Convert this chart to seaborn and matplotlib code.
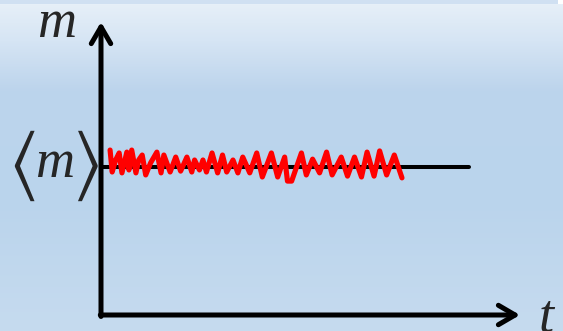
import numpy as np
import pandas as pd
import seaborn as sns
import matplotlib
matplotlib.use("Agg")
from matplotlib import pyplot as plt

# fluctuating signal m(t)
t_vals = [1.3, 1.6, 2.1, 2.6, 3.0, 3.7, 4.0, 4.4, 5.0, 5.4, 5.9, 6.4, 7.1, 8.0,
          8.6, 9.0, 9.9, 10.7, 11.4, 12.3, 13.0, 13.4, 14.1, 14.6, 15.1, 15.9,
          16.7, 17.4, 18.0, 18.9, 19.6, 20.3, 21.3, 22.3, 23.1, 24.4, 25.3,
          26.3, 26.7, 27.3, 28.7, 29.4, 30.3, 31.3, 32.3, 33.1, 34.4, 35.3,
          36.3, 37.3, 38.1, 39.1, 39.9, 40.9, 42.0, 43.1]
m_vals = [5.63, 4.88, 5.29, 5.53, 4.85, 5.56, 4.95, 5.63, 4.85, 5.29, 5.46, 4.78,
          5.19, 5.56, 4.85, 5.46, 4.88, 5.39, 4.91, 5.39, 4.88, 5.29, 4.95, 5.29,
          4.88, 5.53, 4.85, 5.46, 4.88, 5.29, 4.85, 5.39, 4.85, 5.53, 4.71, 5.53,
          4.71, 5.39, 4.57, 4.57, 5.53, 4.78, 5.32, 4.85, 5.56, 4.78, 5.39, 4.74,
          5.39, 4.71, 5.56, 4.74, 5.60, 4.78, 5.46, 4.68]
mean_m = 5.05
mean_t = [0, 52.7]

sns.set_style("white")
plt.rcParams["mathtext.fontset"] = "stix"

fig = plt.figure(figsize=(5.63, 3.31), dpi=100)

# light blue gradient background
rows = np.arange(331)
stops_y = [0, 4, 40, 90, 200, 330]
stops_c = np.array([[230, 239, 248], [230, 239, 248], [214, 229, 244],
                    [188, 212, 236], [186, 212, 236], [198, 219, 239]]) / 255
bg = np.zeros((331, 563, 3))
for k in range(3):
    bg[:, :, k] = np.interp(rows, stops_y, stops_c[:, k])[:, None]
bg[:4, :, :] = np.array([208, 224, 242]) / 255
bg[:4, 558:, :] = 1.0
ax_bg = fig.add_axes([0, 0, 1, 1], zorder=-1)
ax_bg.imshow(bg, aspect="auto", interpolation="bilinear")
ax_bg.axis("off")

ax = fig.add_axes([101 / 563, 16 / 331, 419 / 563, 293 / 331])
ax.patch.set_alpha(0)

df = pd.DataFrame({"t": t_vals, "m": m_vals})
sns.lineplot(x=mean_t, y=[mean_m, mean_m], color="black", lw=2.9, ax=ax, zorder=2)
sns.lineplot(data=df, x="t", y="m", color="red", lw=3.7, ax=ax, sort=False,
             zorder=3, solid_joinstyle="round")

ax.set_xlim(0, 60)
ax.set_ylim(0, 10)
ax.axis("off")

arrow = dict(arrowstyle="->,head_length=0.6,head_width=0.35", lw=3.6,
             color="black", shrinkA=0, shrinkB=0, mutation_scale=20)
ax.annotate("", xy=(60, 0), xytext=(-0.1, 0), arrowprops=arrow, annotation_clip=False)
ax.annotate("", xy=(0, 10), xytext=(0, -0.05), arrowprops=arrow, annotation_clip=False)

lab = dict(family="Liberation Serif", style="italic", fontsize=39, clip_on=False)
ax.text(-6.4, 9.5, "m", ha="center", va="baseline", **lab)
ax.text(-6.7, 4.71, "m", ha="center", va="baseline", **lab)
ax.text(63.7, -0.58, "t", ha="center", va="baseline", **lab)
ax.text(-11.4, 5.09, r"$\langle$", ha="center", va="center", fontsize=55, clip_on=False)
ax.text(-2.3, 5.09, r"$\rangle$", ha="center", va="center", fontsize=55, clip_on=False)

fig.savefig("out.png", dpi=100)
